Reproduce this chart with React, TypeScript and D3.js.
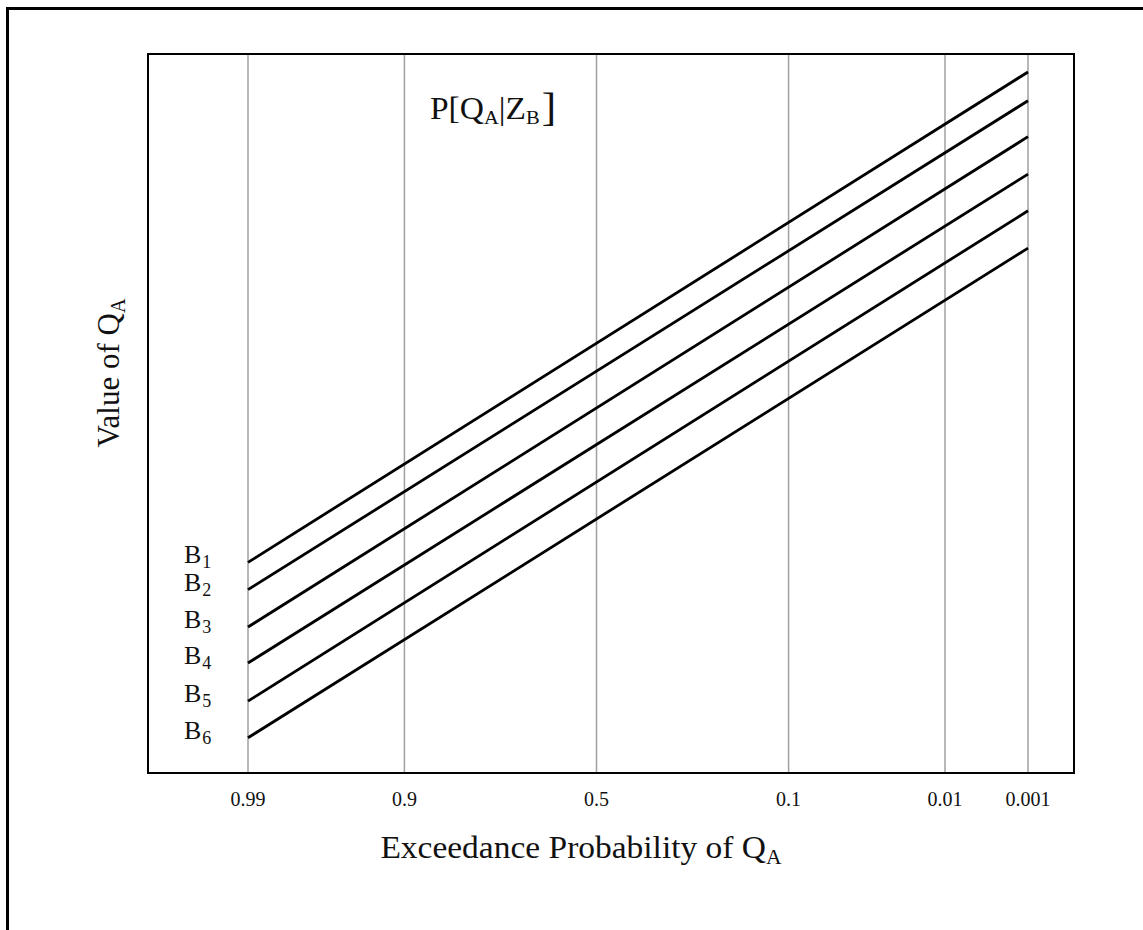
import React from 'react';
import * as d3 from 'd3';

// exceedance probabilities on the x axis and their normal-deviate positions
const probLabels = ['0.99', '0.9', '0.5', '0.1', '0.01', '0.001'];
const probZ = [-2.326, -1.282, 0, 1.282, 2.326, 2.88];

// curves B1..B6, value of Q_A (arbitrary 0-100 units) at p = 0.99 and p = 0.001
const curveNames = ['1', '2', '3', '4', '5', '6'];
const valueAtHigh = [29.3, 25.5, 20.3, 15.3, 10.0, 4.9];
const valueAtLow = [97.5, 93.5, 88.5, 83.3, 78.2, 73.0];

const W = 1143;
const H = 930;
const FONT = '"Liberation Serif", "Times New Roman", serif';

export default function App() {
  const margin = { left: 148, top: 54, right: 1074, bottom: 773 };

  const x = d3.scaleLinear()
    .domain([-2.326, 2.326])
    .range([248, 945]);

  const y = d3.scaleLinear()
    .domain([0, 100])
    .range([margin.bottom, margin.top]);

  const line = d3.line<[number, number]>()
    .x(d => x(d[0]))
    .y(d => y(d[1]));

  const zHigh = probZ[0];
  const zLow = probZ[probZ.length - 1];

  return (
    <svg width={W} height={H} style={{ position: 'absolute', left: 0, top: 0, background: '#fff' }}
      fontFamily={FONT}>
      {/* outer frame (left and top edges) */}
      <line x1={7.5} y1={8.5} x2={W} y2={8.5} stroke="#000" strokeWidth={3} />
      <line x1={7.5} y1={7} x2={7.5} y2={H} stroke="#000" strokeWidth={3} />

      {/* grid */}
      {probZ.map((z, i) => (
        <line key={'g' + i} x1={x(z)} x2={x(z)} y1={margin.top} y2={margin.bottom}
          stroke="#a0a0a0" strokeWidth={1.5} />
      ))}

      {/* curves */}
      {curveNames.map((n, i) => (
        <path key={'c' + n}
          d={line([[zHigh, valueAtHigh[i]], [zLow, valueAtLow[i]]]) || ''}
          fill="none" stroke="#000" strokeWidth={2.8} />
      ))}

      {/* plot frame */}
      <rect x={margin.left} y={margin.top} width={margin.right - margin.left}
        height={margin.bottom - margin.top} fill="none" stroke="#000" strokeWidth={2} />

      {/* curve labels */}
      {curveNames.map((n, i) => (
        <text key={'l' + n} x={184} y={y(valueAtHigh[i]) + 1} fontSize={26} fill="#111">
          B<tspan fontSize={18} dy={5} dx={1}>{n}</tspan>
        </text>
      ))}

      {/* title inside plot */}
      <text transform="translate(430,119) scale(1.08,1)" fontSize={31} fill="#111">
        P[Q<tspan fontSize={19} dy={5}>A</tspan>
        <tspan dy={-5}>|Z</tspan>
        <tspan fontSize={19} dy={5}>B</tspan>
        <tspan dy={-3} fontSize={40} dx={2}>]</tspan>
      </text>

      {/* x tick labels */}
      {probLabels.map((lab, i) => (
        <text key={'t' + i} x={x(probZ[i])} y={806} fontSize={20} textAnchor="middle" fill="#111">
          {lab}
        </text>
      ))}

      {/* axis titles */}
      <text transform="translate(581,858) scale(1.08,1)" fontSize={31} textAnchor="middle" fill="#111">
        Exceedance Probability of Q<tspan fontSize={20} dy={6}>A</tspan>
      </text>
      <text transform="translate(119,373) rotate(-90)" fontSize={31} textAnchor="middle" fill="#111">
        Value of Q<tspan fontSize={20} dy={6}>A</tspan>
      </text>
    </svg>
  );
}
